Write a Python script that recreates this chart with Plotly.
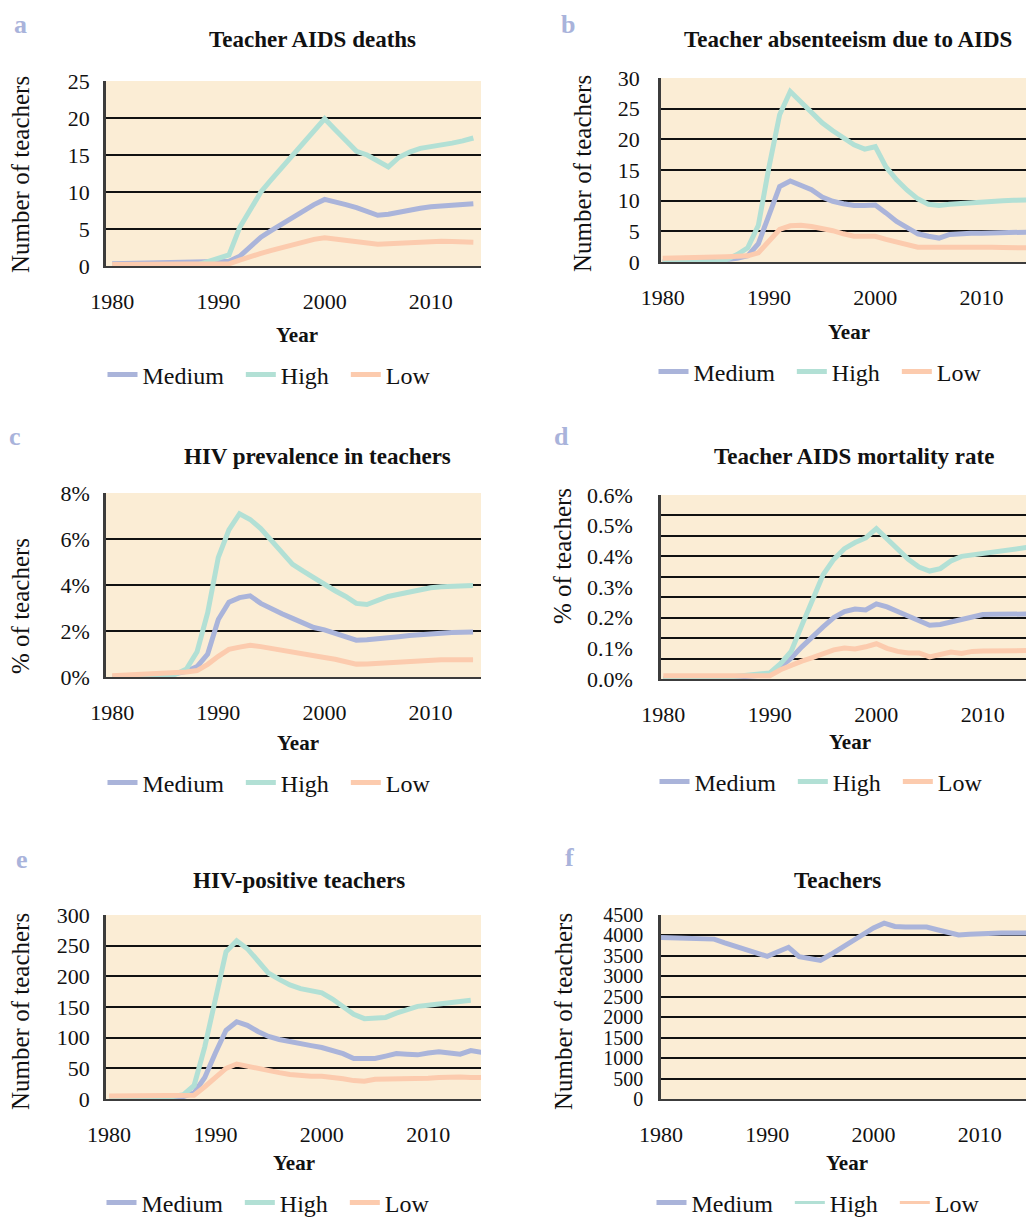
import plotly.graph_objects as go

# ---------------- data ----------------
years = list(range(1980, 2016))

series_names = ["Medium", "High", "Low"]

# a: Teacher AIDS deaths (number of teachers), 1980-2014
a_medium = [0.30, 0.32, 0.34, 0.36, 0.38, 0.40, 0.42, 0.45, 0.48, 0.52,
            0.56, 0.65, 1.30, 2.60, 3.90, 4.80, 5.70, 6.50, 7.40, 8.30,
            9.00, 8.70, 8.30, 7.90, 7.40, 6.85, 7.00, 7.30, 7.55, 7.80,
            8.00, 8.10, 8.20, 8.30, 8.40]
a_high = [0, 0, 0, 0, 0, 0, 0, 0.05, 0.15, 0.6,
          1.0, 1.5, 5.2, 7.6, 10.0, 11.7, 13.3, 15.0, 16.6, 18.3,
          19.9, 18.4, 17.0, 15.5, 15.0, 14.2, 13.4, 14.7, 15.4, 15.9,
          16.1, 16.3, 16.6, 16.9, 17.3]
a_low = [0.2, 0.2, 0.2, 0.2, 0.2, 0.2, 0.2, 0.2, 0.2, 0.2,
         0.2, 0.3, 0.8, 1.3, 1.7, 2.1, 2.5, 2.9, 3.3, 3.6,
         3.8, 3.65, 3.5, 3.3, 3.15, 2.95, 3.0, 3.1, 3.2, 3.3,
         3.35, 3.35, 3.3, 3.25, 3.2]

# b: Teacher absenteeism due to AIDS (number of teachers), 1980-2015
b_medium = [0.0, 0.05, 0.1, 0.15, 0.2, 0.3, 0.4, 0.6, 1.0, 3.0,
            7.8, 12.3, 13.2, 12.6, 11.8, 10.6, 9.9, 9.5, 9.2, 9.2,
            9.3, 8.0, 6.6, 5.6, 4.6, 4.2, 3.9, 4.5, 4.7, 4.7,
            4.7, 4.75, 4.8, 4.9, 4.9, 4.9]
b_high = [0, 0, 0, 0, 0.05, 0.1, 0.4, 1.2, 2.3, 6.0,
          15.5, 24.0, 27.8, 26.1, 24.2, 22.7, 21.4, 20.2, 19.1, 18.4,
          18.8, 15.5, 13.4, 11.7, 10.3, 9.4, 9.2, 9.4, 9.55, 9.7,
          9.8, 9.9, 10.0, 10.05, 10.1, 10.15]
b_low = [0.6, 0.6, 0.65, 0.7, 0.75, 0.8, 0.85, 0.9, 1.0, 1.5,
         3.4, 5.3, 5.9, 6.0, 5.8, 5.5, 5.1, 4.6, 4.2, 4.2,
         4.2, 3.7, 3.2, 2.7, 2.4, 2.4, 2.4, 2.6, 2.55, 2.5,
         2.45, 2.4, 2.35, 2.3, 2.3, 2.3]

# c: HIV prevalence in teachers (% of teachers), 1980-2014
c_medium = [0, 0, 0, 0, 0, 0.05, 0.15, 0.25, 0.45, 1.0,
            2.5, 3.25, 3.45, 3.53, 3.2, 2.95, 2.75, 2.55, 2.35, 2.15,
            2.05, 1.9, 1.75, 1.6, 1.62, 1.65, 1.7, 1.75, 1.8, 1.85,
            1.88, 1.9, 1.93, 1.95, 1.96]
c_high = [0, 0, 0, 0, 0, 0.02, 0.12, 0.35, 1.1, 2.8,
          5.2, 6.4, 7.1, 6.85, 6.45, 5.95, 5.4, 4.9, 4.6, 4.3,
          4.0, 3.75, 3.5, 3.2, 3.15, 3.35, 3.5, 3.6, 3.7, 3.8,
          3.88, 3.92, 3.94, 3.96, 3.98]
c_low = [0.05, 0.07, 0.09, 0.11, 0.13, 0.15, 0.18, 0.22, 0.28, 0.55,
         0.9, 1.2, 1.3, 1.38, 1.32, 1.25, 1.18, 1.1, 1.02, 0.93,
         0.85, 0.77, 0.67, 0.56, 0.57, 0.6, 0.63, 0.66, 0.69, 0.72,
         0.74, 0.75, 0.75, 0.75, 0.75]

# d: Teacher AIDS mortality rate (% of teachers), 1980-2015
d_medium = [0, 0, 0, 0, 0, 0, 0.003, 0.006, 0.009, 0.012,
            0.015, 0.04, 0.068, 0.105, 0.14, 0.17, 0.20, 0.22, 0.228, 0.225,
            0.245, 0.235, 0.22, 0.205, 0.19, 0.175, 0.178, 0.187, 0.195, 0.205,
            0.21, 0.211, 0.211, 0.212, 0.212, 0.212]
d_high = [0, 0, 0, 0, 0, 0.003, 0.006, 0.01, 0.013, 0.017,
          0.02, 0.05, 0.09, 0.175, 0.26, 0.34, 0.39, 0.425, 0.445, 0.46,
          0.49, 0.455, 0.42, 0.39, 0.365, 0.352, 0.36, 0.385, 0.40, 0.405,
          0.41, 0.415, 0.42, 0.425, 0.43, 0.433]
d_low = [0.011, 0.011, 0.011, 0.011, 0.011, 0.011, 0.011, 0.011, 0.011, 0.011,
         0.011, 0.03, 0.045, 0.058, 0.07, 0.082, 0.095, 0.101, 0.098, 0.105,
         0.115, 0.1, 0.09, 0.085, 0.085, 0.072, 0.078, 0.088, 0.083, 0.09,
         0.091, 0.092, 0.092, 0.093, 0.093, 0.093]

# e: HIV-positive teachers (number of teachers)
e_medium = [2, 2.2, 2.4, 2.6, 2.8, 3, 3.5, 4, 10, 35,
            75, 112, 126, 120, 110, 102, 97, 93, 90, 87,
            84, 80, 74, 66, 65, 66, 70, 74, 73, 72,
            75, 77, 75, 73, 79, 76]
e_high = [2, 2.2, 2.4, 2.6, 2.8, 3, 4, 7, 22, 85,
          160, 240, 258, 245, 225, 205, 195, 186, 180, 176,
          173, 163, 150, 138, 131, 132, 133, 140, 146, 151,
          153, 155, 157, 159, 161]
e_low = [5, 5, 5, 5.5, 5.5, 6, 6, 6, 6, 20,
         35, 50, 57, 53, 49, 46, 43, 40, 38, 37,
         37, 36, 33, 30, 29, 32, 32, 32, 32, 33,
         34, 35, 36, 36, 35, 35]

# f: Teachers (number of teachers) - only the Medium series has data
f_medium = [3950, 3940, 3930, 3920, 3915, 3910, 3820, 3735, 3650, 3568,
            3490, 3600, 3710, 3480, 3440, 3390, 3540, 3700, 3865, 4030,
            4185, 4300, 4220, 4205, 4205, 4205, 4140, 4080, 4010, 4030,
            4050, 4060, 4060, 4060, 4060, 4060]
f_high = []
f_low = []

panel_letters = ["a", "b", "c", "d", "e", "f"]
panel_titles = ["Teacher AIDS deaths", "Teacher absenteeism due to AIDS",
                "HIV prevalence in teachers", "Teacher AIDS mortality rate",
                "HIV-positive teachers", "Teachers"]
y_titles = ["Number of teachers", "Number of teachers", "% of teachers",
            "% of teachers", "Number of teachers", "Number of teachers"]
x_title = "Year"
x_tick_vals = [1980, 1990, 2000, 2010]

# ---------------- styling / layout ----------------
PAGE_W, PAGE_H = 1034, 1219
OFF = 8                      # default body margin of the html page
W, H = PAGE_W - OFF, PAGE_H - OFF
FONT = "Liberation Serif"
COLORS = {"Medium": "#AAB4DA", "High": "#B2E0D5", "Low": "#FCCBAE"}
BG = "#FBEDD5"
LETTER = "#A9B3DB"
GRID = "#111111"
AXLINE = "#3C3C3C"
NBSP = "\u00a0"


def fx(px):
    return (px - OFF) / W


def fy(py):
    return 1 - (py - OFF) / H


panels = [
    dict(data=(a_medium, a_high, a_low), box=(106, 481, 81, 266), xr=[1979.42, 2014.72],
         yr=[0, 25], dtick=5, suffix="", fmt=None, ytf=22, ystand=9,
         letter=(20, 8, "top"), title=(312, 40), ytitle=(20, 175), xtitle=(297, 335), leg=(269, 375)),
    dict(data=(b_medium, b_high, b_low), box=(661, 1034, 78, 262), xr=[1979.84, 2014.93],
         yr=[0, 30], dtick=5, suffix="", fmt=None, ytf=22, ystand=14,
         letter=(568, 8, "top"), title=(848, 40), ytitle=(582, 174), xtitle=(849, 332), leg=(820, 372)),
    dict(data=(c_medium, c_high, c_low), box=(106, 481, 493, 677), xr=[1979.42, 2014.75],
         yr=[0, 8], dtick=2, suffix="%", fmt="d", ytf=22, ystand=9,
         letter=(15, 437, "middle"), title=(317, 457), ytitle=(20, 606), xtitle=(298, 743), leg=(269, 783)),
    dict(data=(d_medium, d_high, d_low), box=(661, 1034, 495, 679), xr=[1979.78, 2014.8],
         yr=[0, 0.6], dtick=0.1, suffix="%", fmt=".1f", minor_div=9, ytf=22, ystand=21,
         letter=(561, 437, "middle"), title=(854, 457), ytitle=(563, 556), xtitle=(850, 742), leg=(821, 782)),
    dict(data=(e_medium, e_high, e_low), box=(106, 481, 915, 1099), xr=[1979.72, 2014.96],
         yr=[0, 300], dtick=50, suffix="", fmt=None, ytf=22, ystand=9,
         letter=(22, 859, "middle"), title=(299, 880), ytitle=(20, 1012), xtitle=(294, 1163), leg=(268, 1203)),
    dict(data=(f_medium, f_high, f_low), box=(661, 1034, 915, 1099), xr=[1980, 2015.1],
         yr=[0, 4500], dtick=500, suffix="", fmt=None, thin_empty=True, ytf=20, ystand=11,
         letter=(569, 857, "middle"), title=(837, 880), ytitle=(563, 1012), xtitle=(847, 1163), leg=(818, 1203)),
]

fig = go.Figure()
layout = dict(
    template="none",
    width=W, height=H,
    autosize=False,
    margin=dict(l=0, r=0, t=0, b=0, autoexpand=False),
    paper_bgcolor="white",
    plot_bgcolor=BG,
    font=dict(family=FONT, size=21, color="#111111"),
    showlegend=True,
    annotations=[],
)

for i, p in enumerate(panels, start=1):
    sfx = "" if i == 1 else str(i)
    xref, yref = "x" + sfx, "y" + sfx
    legname = "legend" + sfx
    x0, x1, y0, y1 = p["box"]
    for k, (name, vals) in enumerate(zip(series_names, p["data"])):
        width = 5
        xs, ys = years[:len(vals)], vals
        if len(vals) == 0:
            # series without data: keep its legend entry
            xs, ys = [None], [None]
            if p.get("thin_empty"):
                width = 3
        label = name + (NBSP * 2 if k < len(series_names) - 1 else "")
        fig.add_trace(go.Scatter(
            x=xs, y=ys, mode="lines", name=label,
            line=dict(color=COLORS[name], width=width),
            xaxis=xref, yaxis=yref, legend=legname, hoverinfo="skip",
        ))

    layout["xaxis" + sfx] = dict(
        domain=[fx(x0), fx(x1)], anchor=yref, range=p["xr"], automargin=False,
        tickmode="array", tickvals=x_tick_vals,
        showgrid=False, zeroline=False,
        showline=True, linecolor=AXLINE, linewidth=2,
        ticks="", ticklabelstandoff=15,
        tickfont=dict(family=FONT, size=22, color="#111111"),
    )
    yax = dict(
        domain=[fy(y1), fy(y0)], anchor=xref, range=p["yr"], automargin=False,
        tickmode="linear", tick0=0, dtick=p["dtick"],
        ticksuffix=p["suffix"],
        showgrid=True, gridcolor=GRID, gridwidth=1.6,
        zeroline=False,
        showline=True, linecolor=AXLINE, linewidth=2.5,
        ticks="", ticklabelstandoff=p["ystand"],
        tickfont=dict(family=FONT, size=p["ytf"], color="#111111"),
    )
    if p["fmt"]:
        yax["tickformat"] = p["fmt"]
    if p.get("minor_div"):
        n = p["minor_div"]
        top = p["yr"][1]
        yax["showgrid"] = False
        yax["minor"] = dict(tickmode="array", tickvals=[top * k / n for k in range(n + 1)],
                            showgrid=True, gridcolor=GRID, gridwidth=1.6, ticks="")
    layout["yaxis" + sfx] = yax

    lx, ly = p["leg"]
    layout[legname] = dict(
        orientation="h", x=fx(lx), y=fy(ly), xanchor="center", yanchor="middle",
        font=dict(family=FONT, size=24, color="#111111"), bgcolor="rgba(0,0,0,0)",
        itemwidth=30,
    )

    ann = layout["annotations"]
    L = p["letter"]
    ann.append(dict(text="<b>%s</b>" % panel_letters[i - 1], x=fx(L[0]), y=fy(L[1]),
                    xref="paper", yref="paper", showarrow=False, xanchor="center", yanchor=L[2],
                    font=dict(family=FONT, size=26, color=LETTER)))
    T = p["title"]
    ann.append(dict(text="<b>%s</b>" % panel_titles[i - 1], x=fx(T[0]), y=fy(T[1]),
                    xref="paper", yref="paper", showarrow=False, xanchor="center", yanchor="middle",
                    font=dict(family=FONT, size=23, color="#111111")))
    Y = p["ytitle"]
    ann.append(dict(text=y_titles[i - 1], x=fx(Y[0]), y=fy(Y[1]), textangle=-90,
                    xref="paper", yref="paper", showarrow=False, xanchor="center", yanchor="middle",
                    font=dict(family=FONT, size=25, color="#111111")))
    X = p["xtitle"]
    ann.append(dict(text="<b>%s</b>" % x_title, x=fx(X[0]), y=fy(X[1]),
                    xref="paper", yref="paper", showarrow=False, xanchor="center", yanchor="middle",
                    font=dict(family=FONT, size=21, color="#111111")))

fig.update_layout(**layout)
fig.write_html("out.html")
